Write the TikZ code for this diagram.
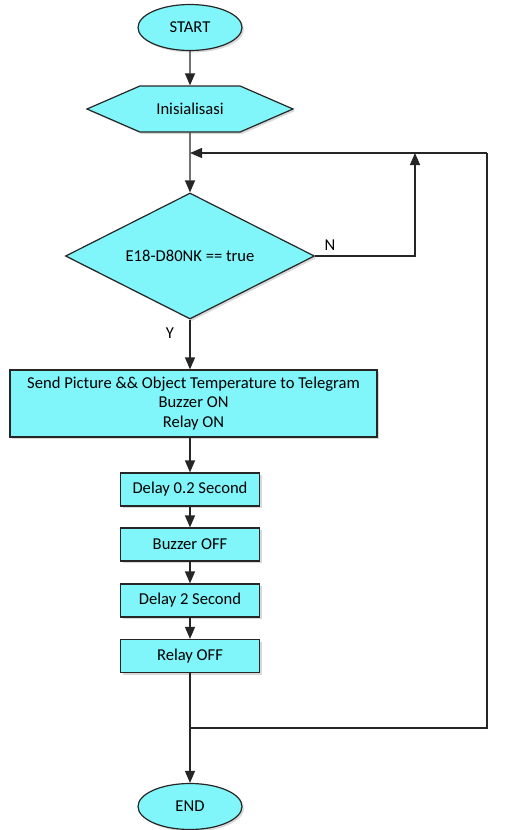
\documentclass[tikz,border=0pt]{standalone}
\usepackage{fontspec}
\setmainfont{Carlito}
\usepackage{tikz}
\usetikzlibrary{shapes.geometric, shapes.symbols, positioning, arrows.meta, shadows}

\definecolor{boxcyan}{RGB}{128,246,250}
\definecolor{linegray}{RGB}{38,38,38}

\tikzset{
    base/.style={draw=linegray, line width=1.2pt, fill=boxcyan, align=center,
        font=\fontsize{16.6}{19.5}\selectfont,
        drop shadow={opacity=0.3, shadow xshift=2pt, shadow yshift=-2pt}},
    terminal/.style={base, ellipse, minimum width=104pt, minimum height=46pt, inner sep=0pt},
    prep/.style={base, signal, signal to=east and west, signal pointer angle=47,
        minimum width=206pt, minimum height=46pt, inner sep=0pt},
    decision/.style={base, diamond, aspect=1.98, minimum width=249pt, minimum height=126pt, inner sep=0pt},
    process/.style={base, rectangle, minimum width=139pt, minimum height=33pt, inner sep=2pt},
    flow/.style={draw=linegray, line width=1.2pt, -{Triangle[length=12pt, width=10pt]}},
    wire/.style={draw=linegray, line width=1.2pt},
    lbl/.style={font=\fontsize{16.6}{19}\selectfont}
}

\begin{document}
\begin{tikzpicture}[x=1pt, y=-1pt]
        \useasboundingbox (0,0) rectangle (519,830);

        % Nodes
        \node[terminal] (start) at (190,27.5) {START};
        \node[prep] (init) at (190,109) {Inisialisasi};
        \node[decision] (cond) at (190,256) {E18-D80NK == true};
        \node[base, rectangle, minimum width=367pt, minimum height=67pt, inner sep=0pt] (send) at (193.5,403.5)
            {Send Picture \&\& Object Temperature to Telegram\\Buzzer ON\\Relay ON};
        \node[process] (delay1) at (190,489.5) {Delay 0.2 Second};
        \node[process] (buzoff) at (190,544.5) {Buzzer OFF};
        \node[process] (delay2) at (190,600.5) {Delay 2 Second};
        \node[process] (reloff) at (190,656) {Relay OFF};
        \node[terminal] (end) at (190,806.5) {END};

        % Junctions
        \coordinate (merge) at (190,153);
        \coordinate (nup) at (415,153);
        \coordinate (back) at (190,728);
        \coordinate (outer) at (487,153);

        % Arrows
        \draw[flow] (start) -- (init);
        \draw[flow] (init) -- (cond);
        \draw[flow] (cond.south) -- (cond.south |- send.north);
        \draw[flow] (cond.south |- send.south) -- (delay1);
        \draw[flow] (delay1) -- (buzoff);
        \draw[flow] (buzoff) -- (delay2);
        \draw[flow] (delay2) -- (reloff);
        \draw[flow] (reloff) -- (end);

        % Loops
        \draw[flow] (cond.east) -| (nup);
        \draw[wire] (back) -| (outer);
        \draw[flow] (outer) -- (merge);

        % Labels
        \node[lbl] (nlabel) at (330,245) {N};
        \node[lbl] (ylabel) at (170,333) {Y};
    \end{tikzpicture}
\end{document}
